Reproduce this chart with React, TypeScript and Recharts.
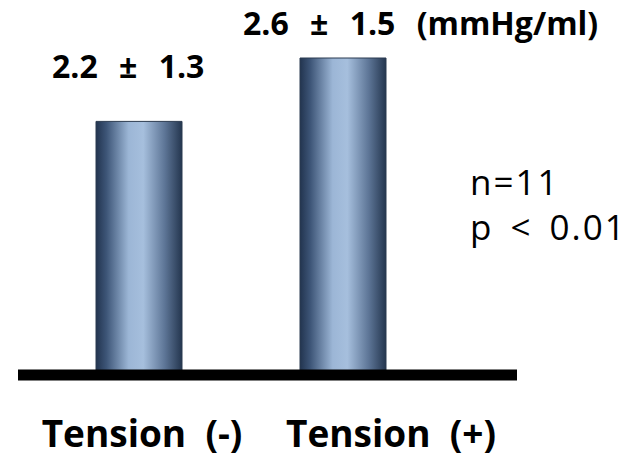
import React from 'react';
import { Bar, BarChart, LabelList, XAxis, YAxis } from 'recharts';

const categories = ['Tension  (-)', 'Tension  (+)'];
const values = [2.2, 2.6];
const valueLabels = ['2.2 ± 1.3', '2.6 ± 1.5 (mmHg/ml)'];
const noteLines = ['n=11', 'p < 0.01'];

const chartData = categories.map((name, i) => ({
  name,
  value: values[i],
  label: valueLabels[i],
}));

const FONT = '"Open Sans", "Noto Sans", sans-serif';

// label placement relative to each bar (x from bar left, baseline above bar top)
const labelOffsets = [
  { dx: -44, dy: -43 },
  { dx: -57, dy: -23 },
];

function ValueLabel(props: any) {
  const { x, y, index } = props;
  const off = labelOffsets[index] ?? { dx: 0, dy: -10 };
  return (
    <text
      x={x + off.dx}
      y={y + off.dy}
      textAnchor="start"
      fontFamily={FONT}
      fontWeight={700}
      fontSize={32}
      fill="#000"
      style={{ wordSpacing: 13 }}
    >
      {valueLabels[index]}
    </text>
  );
}

function CategoryTick(props: any) {
  const { x, y, payload, index } = props;
  const shift = index === 1 ? 48 : 3;
  return (
    <text
      x={x + shift}
      y={y + 64}
      textAnchor="middle"
      fontFamily={FONT}
      fontWeight={700}
      fontSize={37}
      fill="#000"
      style={{ whiteSpace: 'pre' }}
    >
      {payload.value}
    </text>
  );
}

export default function App() {
  return (
    <div style={{ position: 'absolute', left: 0, top: 0, width: 630, height: 458, background: '#fff' }}>
      <BarChart
        width={630}
        height={458}
        data={chartData}
        margin={{ top: 58, right: 113, bottom: 23, left: 18 }}
        barCategoryGap={0}
      >
        <defs>
          <linearGradient id="cyl" x1="0" y1="0" x2="1" y2="0">
            <stop offset="0%" stopColor="#22344f" />
            <stop offset="12%" stopColor="#3d5577" />
            <stop offset="38%" stopColor="#9cb6d6" />
            <stop offset="55%" stopColor="#a6bfdd" />
            <stop offset="80%" stopColor="#5d7596" />
            <stop offset="100%" stopColor="#24364f" />
          </linearGradient>
        </defs>
        <XAxis
          dataKey="name"
          height={60}
          padding={{ left: 19, right: 72 }}
          axisLine={{ stroke: '#000', strokeWidth: 11 }}
          tickLine={false}
          tick={<CategoryTick />}
          interval={0}
        />
        <YAxis hide type="number" domain={[0.6, 2.6]} />
        <Bar
          dataKey="value"
          barSize={86}
          fill="url(#cyl)"
          stroke="#2b3b50"
          strokeWidth={1}
          isAnimationActive={false}
        >
          <LabelList dataKey="label" content={<ValueLabel />} />
        </Bar>
      </BarChart>
      <svg
        width={630}
        height={458}
        style={{ position: 'absolute', left: 0, top: 0, pointerEvents: 'none' }}
      >
        {noteLines.map((t, i) => (
          <text
            key={t}
            x={470}
            y={195 + i * 45}
            fontFamily={FONT}
            fontSize={35}
            fill="#000"
            style={{ wordSpacing: 6, letterSpacing: 2, whiteSpace: 'pre' }}
          >
            {t}
          </text>
        ))}
      </svg>
    </div>
  );
}
